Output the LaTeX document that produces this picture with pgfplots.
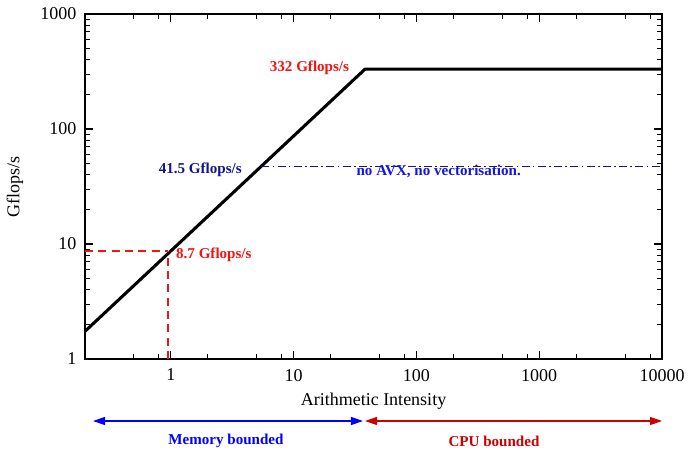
\documentclass[border=0pt]{standalone}
\usepackage{fontspec}
\setmainfont{Liberation Serif}
\usepackage{pgfplots}
\pgfplotsset{compat=1.18}
\usetikzlibrary{arrows.meta}
\definecolor{labred}{RGB}{240,20,20}
\definecolor{navy}{RGB}{20,20,140}
\definecolor{avxblue}{RGB}{20,20,230}
\definecolor{cpured}{RGB}{205,0,0}

\begin{document}
\begin{tikzpicture}
\begin{axis}[
    scale only axis,
    width=432.75pt, height=258.75pt,
    xmode=log, ymode=log,
    xmin=0.2, xmax=10000,
    ymin=1, ymax=1000,
    xtick={1,10,100,1000,10000},
    xticklabels={1,10,100,1000,10000},
    minor xtick={0.5,0.8,2,5,8,20,50,80,200,500,800,2000,5000,8000},
    ytick={1,10,100,1000},
    yticklabels={1,10,100,1000},
    tick align=inside,
    major tick length=6pt,
    minor tick length=3.5pt,
    every tick/.style={black, line width=0.8pt},
    axis line style={line width=1pt},
    tick label style={font=\fontsize{13.5}{15}\selectfont},
    label style={font=\fontsize{13.5}{15}\selectfont},
    xticklabel style={yshift=-4pt},
    yticklabel style={xshift=-3pt},
    xlabel={Arithmetic Intensity},
    ylabel={Gflops/s},
    xlabel style={yshift=-2pt},
    ylabel style={yshift=6pt},
    clip=false,
]
% roofline
\addplot[black, line width=2.3pt, line join=round] coordinates {
    (0.2,1.74) (38.2,332) (10000,332)
};
% no AVX ceiling
\addplot[navy, line width=1pt, dash pattern=on 6pt off 2.5pt on 1.2pt off 2.5pt] coordinates {
    (5.45,47.5) (10000,47.5)
};
% operating point
\addplot[labred, line width=1pt, dash pattern=on 6pt off 4pt] coordinates {
    (0.2,8.7) (0.95,8.7)
};
\addplot[labred, line width=1pt, dash pattern=on 6pt off 4pt] coordinates {
    (0.95,1) (0.95,8.7)
};
\node[inner sep=0pt, anchor=east, text=labred, font=\fontsize{11.3}{13}\selectfont\bfseries] at (axis cs:28.4,339) {332 Gflops/s};
\node[inner sep=0pt, anchor=east, text=navy, font=\fontsize{11.3}{13}\selectfont\bfseries] at (axis cs:3.8,44) {41.5 Gflops/s};
\node[inner sep=0pt, anchor=west, text=avxblue, font=\fontsize{11.3}{13}\selectfont\bfseries] at (axis cs:32.4,43) {no AVX, no vectorisation.};
\node[inner sep=0pt, anchor=west, text=labred, font=\fontsize{11.3}{13}\selectfont\bfseries] at (axis cs:1.1,8.0) {8.7 Gflops/s};
% regions below the axis
\draw[blue, line width=0.9pt, {Triangle[length=9pt,width=6pt]}-{Triangle[length=9pt,width=6pt]}]
    (rel axis cs:0.0139,-0.1797) -- (rel axis cs:0.4818,-0.1797);
\draw[cpured, line width=0.9pt, {Triangle[length=9pt,width=6pt]}-{Triangle[length=9pt,width=6pt]}]
    (rel axis cs:0.4853,-0.1797) -- (rel axis cs:1.0,-0.1797);
\node[text=blue, font=\fontsize{11.3}{13}\selectfont\bfseries] at (rel axis cs:0.2444,-0.2377) {Memory bounded};
\node[text=cpured, font=\fontsize{11.3}{13}\selectfont\bfseries] at (rel axis cs:0.7088,-0.2377) {CPU bounded};
\coordinate (bl) at (rel axis cs:-0.1473,-0.258);
\coordinate (tr) at (rel axis cs:1.0468,1.0406);
\end{axis}
\path (bl) rectangle (tr);
\end{tikzpicture}
\end{document}
